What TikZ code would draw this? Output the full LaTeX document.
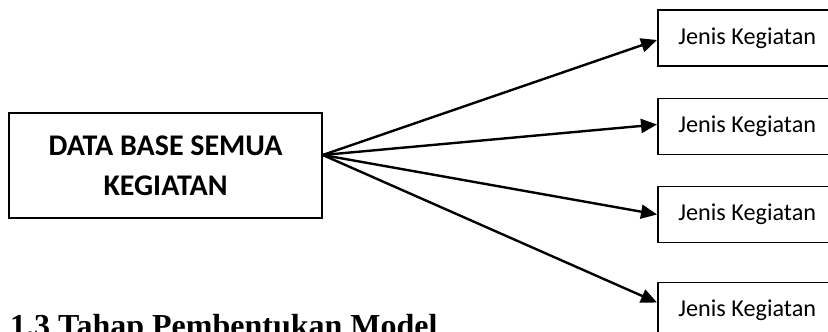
\documentclass[tikz,border=0pt]{standalone}
\usepackage{fontspec}
\setmainfont{Carlito}
\newfontfamily\headfont{Liberation Serif}
\usetikzlibrary{positioning,arrows.meta}

\begin{document}
\begin{tikzpicture}[x=1pt,y=1pt,
   dbbox/.style={draw,line width=1.5pt,minimum width=313pt,minimum height=105pt,align=center,font=\fontsize{30}{40}\selectfont\bfseries},
   jkbox/.style={draw,line width=1.5pt,minimum width=179pt,minimum height=56pt,font=\fontsize{24.2}{28}\selectfont},
   arr/.style={line width=2.4pt,-{Triangle[length=16pt,width=14pt]}}]
\clip (0,0) rectangle (828,332);
\node[dbbox] (db) at (165.5,166.5) {DATA BASE SEMUA\\KEGIATAN};
\node[jkbox,anchor=west] (jk1) at (657,294) {Jenis Kegiatan};
\node[jkbox,below=31pt of jk1] (jk2) {Jenis Kegiatan};
\node[jkbox,below=30.5pt of jk2] (jk3) {Jenis Kegiatan};
\node[jkbox,below=38.5pt of jk3] (jk4) {Jenis Kegiatan};
\coordinate (src) at ([yshift=10.5pt]db.east);
\draw[arr] (src) -- ([yshift=-2pt]jk1.west);
\draw[arr] (src) -- ([yshift=2pt]jk2.west);
\draw[arr] (src) -- (jk3.west);
\draw[arr] (src) -- ([yshift=8pt]jk4.west);
\node[anchor=base west,inner sep=0pt,font=\headfont\bfseries\fontsize{32}{38}\selectfont] (head) at (10,-5) {1.3 Tahap Pembentukan Model};
\end{tikzpicture}
\end{document}
